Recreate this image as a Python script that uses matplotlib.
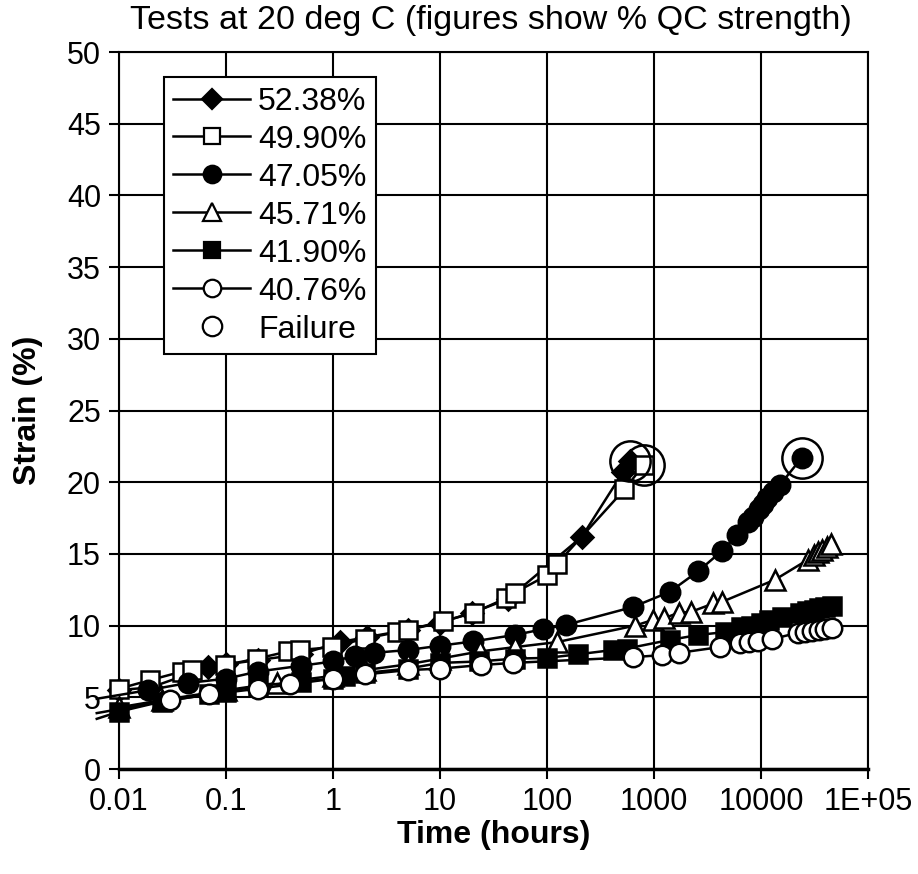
import numpy as np
import matplotlib.pyplot as plt
from matplotlib.lines import Line2D

plt.rcParams['font.family'] = ['Liberation Sans', 'DejaVu Sans']

# 52.38% (filled diamonds)
t_5238 = [0.01, 0.02, 0.068, 0.1, 0.2, 0.5, 1.16, 2.07, 5, 10, 20, 43, 212, 513, 597]
s_5238 = [5.5, 5.7, 7.1, 7.3, 7.6, 8.0, 8.85, 9.2, 9.7, 10.2, 10.9, 11.85, 16.2, 20.7, 21.5]

# 49.90% (open squares)
t_4990 = [0.01, 0.0195, 0.039, 0.048, 0.098, 0.195, 0.38, 0.49, 0.98, 2.0, 4.0, 5.0,
          10.6, 20.8, 41, 50, 100, 124, 530, 800]
s_4990 = [5.6, 6.2, 6.8, 6.9, 7.25, 7.7, 8.2, 8.3, 8.5, 9.1, 9.55, 9.7,
          10.3, 10.9, 11.9, 12.3, 13.5, 14.3, 19.5, 21.2]

# 47.05% (filled circles)
t_4705 = [0.0062, 0.0187, 0.044, 0.1, 0.2, 0.5, 1.0, 1.6, 2.4, 5.0, 10, 20.5, 50, 92, 150,
          637, 1400, 2600, 4300, 5970, 7560, 8500, 9500, 10500, 11500, 13000, 15000, 24000]
s_4705 = [4.9, 5.5, 6.0, 6.3, 6.8, 7.2, 7.5, 7.9, 8.1, 8.3, 8.6, 8.9, 9.35, 9.75, 10.05,
          11.3, 12.35, 13.8, 15.2, 16.3, 17.2, 17.6, 18.1, 18.5, 18.9, 19.3, 19.8, 21.7]

# 45.71% (open triangles)
t_4571 = [0.01, 0.025, 0.1, 0.3, 1, 2, 5, 10, 23.5, 50, 124, 665, 980, 1230, 1700, 2200,
          3600, 4300, 13500, 27500, 31000, 34000, 37000, 41000, 45000]
s_4571 = [4.3, 4.8, 5.5, 6.0, 6.5, 6.9, 7.3, 7.7, 8.2, 8.5, 8.85, 10.0, 10.4, 10.5, 10.9, 10.95,
          11.55, 11.65, 13.2, 14.6, 14.9, 15.1, 15.3, 15.5, 15.7]

# 41.90% (filled squares)
t_4190 = [0.0062, 0.01, 0.025, 0.07, 0.1, 0.2, 0.5, 1.0, 1.3, 2, 5, 10, 23, 50, 100, 195,
          414, 557, 1400, 2600, 4600, 6500, 8000, 10000, 12000, 15800, 23000, 27000,
          31000, 35000, 40000, 46000]
s_4190 = [3.5, 4.0, 4.7, 5.2, 5.4, 5.8, 6.1, 6.3, 6.5, 6.7, 7.0, 7.4, 7.5, 7.7, 7.75, 8.0,
          8.3, 8.4, 9.0, 9.35, 9.55, 9.9, 10.0, 10.2, 10.4, 10.6, 10.9, 11.0,
          11.1, 11.2, 11.3, 11.4]

# 40.76% (open circles)
t_4076 = [0.0062, 0.03, 0.07, 0.2, 0.4, 1, 2, 5, 10, 24, 48, 640, 1200, 1700, 4100, 6400,
          7800, 9400, 12600, 22000, 26000, 30000, 35000, 40000, 46000]
s_4076 = [3.9, 4.8, 5.2, 5.6, 5.9, 6.3, 6.6, 6.9, 7.0, 7.25, 7.4, 7.8, 7.95, 8.1, 8.5, 8.8,
          8.85, 8.9, 9.05, 9.5, 9.55, 9.6, 9.7, 9.75, 9.8]

# failure points
t_fail = [597, 800, 24000]
s_fail = [21.5, 21.2, 21.7]

series = [
    ("52.38%", t_5238, s_5238, "D", "black", 11),
    ("49.90%", t_4990, s_4990, "s", "white", 13),
    ("47.05%", t_4705, s_4705, "o", "black", 14),
    ("45.71%", t_4571, s_4571, "^", "white", 14),
    ("41.90%", t_4190, s_4190, "s", "black", 13),
    ("40.76%", t_4076, s_4076, "o", "white", 14),
]

fig = plt.figure(figsize=(9.18, 8.74), dpi=100)
ax = fig.add_axes([0.1296, 0.1201, 0.8159, 0.8204])

handles = []
for label, t, s, mk, fc, ms in series:
    t = np.array(t)
    s = np.array(s)
    shown = list(np.where(t >= 0.01)[0])
    ax.plot(t, s, color="black", lw=1.8, marker=mk, ms=ms, mfc=fc, mec="black",
            mew=1.8, markevery=shown, clip_on=False, zorder=3)
    handles.append(Line2D([], [], color="black", lw=1.8, marker=mk, ms=ms * 0.9,
                          mfc=fc, mec="black", mew=1.6, label=label))

ax.plot(t_fail, s_fail, ls="none", marker="o", ms=29, mfc="none", mec="black",
        mew=1.8, clip_on=False, zorder=4)
handles.append(Line2D([], [], ls="none", marker="o", ms=14, mfc="white", mec="black",
                      mew=1.6, label="Failure"))

ax.set_xscale("log")
ax.set_xlim(0.01, 1e5)
ax.set_ylim(0, 50)
ax.set_yticks(np.arange(0, 51, 5))
xt = [0.01, 0.1, 1, 10, 100, 1000, 10000, 100000]
ax.set_xticks(xt)
ax.set_xticklabels(["0.01", "0.1", "1", "10", "100", "1000", "10000", "1E+05"])
ax.minorticks_off()
ax.grid(True, color="black", lw=1.5)
ax.set_axisbelow(True)
for sp in ax.spines.values():
    sp.set_linewidth(1.5)
ax.spines["bottom"].set_linewidth(2.5)
ax.tick_params(axis="both", labelsize=22, length=7, width=1.5, direction="out", pad=6)
ax.tick_params(axis="x", pad=6)

ax.set_xlabel("Time (hours)", fontsize=23, fontweight="bold", labelpad=2)
ax.set_ylabel("Strain (%)", fontsize=23, fontweight="bold", labelpad=17)
fig.text(0.535, 0.977, "Tests at 20 deg C (figures show % QC strength)", fontsize=24.5,
         ha="center", va="center")

leg = ax.legend(handles=handles, loc="upper left", bbox_to_anchor=(0.06, 0.965),
                fontsize=23, frameon=True, fancybox=False, edgecolor="black",
                framealpha=1, handlelength=2.4, handletextpad=0.25, labelspacing=0.25,
                borderpad=0.3, borderaxespad=0)
leg.get_frame().set_linewidth(1.5)
leg.set_zorder(10)

fig.savefig("out.png", dpi=100)
